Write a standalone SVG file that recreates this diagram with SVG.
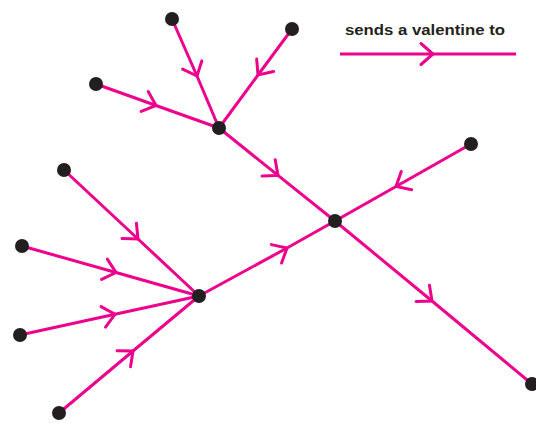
<svg xmlns="http://www.w3.org/2000/svg" width="536" height="442" viewBox="0 0 536 442">
<style>
.e{fill:none;stroke:#EC008C;stroke-width:3;marker-mid:url(#chev)}
.n{fill:#231F20}
.t{font-family:"Liberation Sans",Arial,sans-serif;font-weight:bold;font-size:14.5px;fill:#231F20}
</style>
<defs>
<marker id="chev" markerUnits="userSpaceOnUse" viewBox="-16 -14 18 28" refX="0" refY="0" markerWidth="18" markerHeight="28" orient="auto" overflow="visible">
<path d="M-12,-10.5 L0,0 L-12,10.5" fill="none" stroke="#EC008C" stroke-width="3" stroke-linecap="round"/>
</marker>
</defs>
<rect width="536" height="442" fill="#fff"/>
<g id="connectors">
<path class="e" d="M172,19 L197,76 L219,128"/>
<path class="e" d="M292,29 L258,75 L219,128"/>
<path class="e" d="M96,84 L156,105.5 L219,128"/>
<path class="e" d="M219,128 L278,175.4 L335,221"/>
<path class="e" d="M64,170 L138,239 L199,296"/>
<path class="e" d="M22,246 L116,272.5 L199,296"/>
<path class="e" d="M20,335 L115,314.3 L199,296"/>
<path class="e" d="M59,413 L133,351 L199,296"/>
<path class="e" d="M199,296 L287,248 L335,221"/>
<path class="e" d="M471,144 L396,186.5 L335,221"/>
<path class="e" d="M335,221 L432,301 L532,384"/>
</g>
<g id="nodes">
<g id="a"><circle class="n" cx="172" cy="19" r="7"/></g>
<g id="b"><circle class="n" cx="292" cy="29" r="7"/></g>
<g id="c"><circle class="n" cx="96" cy="84" r="7"/></g>
<g id="h1"><circle class="n" cx="219" cy="128" r="7"/></g>
<g id="d"><circle class="n" cx="64" cy="170" r="7"/></g>
<g id="e"><circle class="n" cx="22" cy="246" r="7"/></g>
<g id="f"><circle class="n" cx="20" cy="335" r="7"/></g>
<g id="g"><circle class="n" cx="59" cy="413" r="7"/></g>
<g id="h2"><circle class="n" cx="199" cy="296" r="7"/></g>
<g id="center"><circle class="n" cx="335" cy="221" r="7"/></g>
<g id="i"><circle class="n" cx="471" cy="144" r="7"/></g>
<g id="j"><circle class="n" cx="532" cy="384" r="7"/></g>
</g>
<g id="legend">
<path class="e" d="M340,54 L433,54 L516,54"/>
<text class="t" x="345" y="35" textLength="160" lengthAdjust="spacingAndGlyphs">sends a valentine to</text>
</g>
</svg>
